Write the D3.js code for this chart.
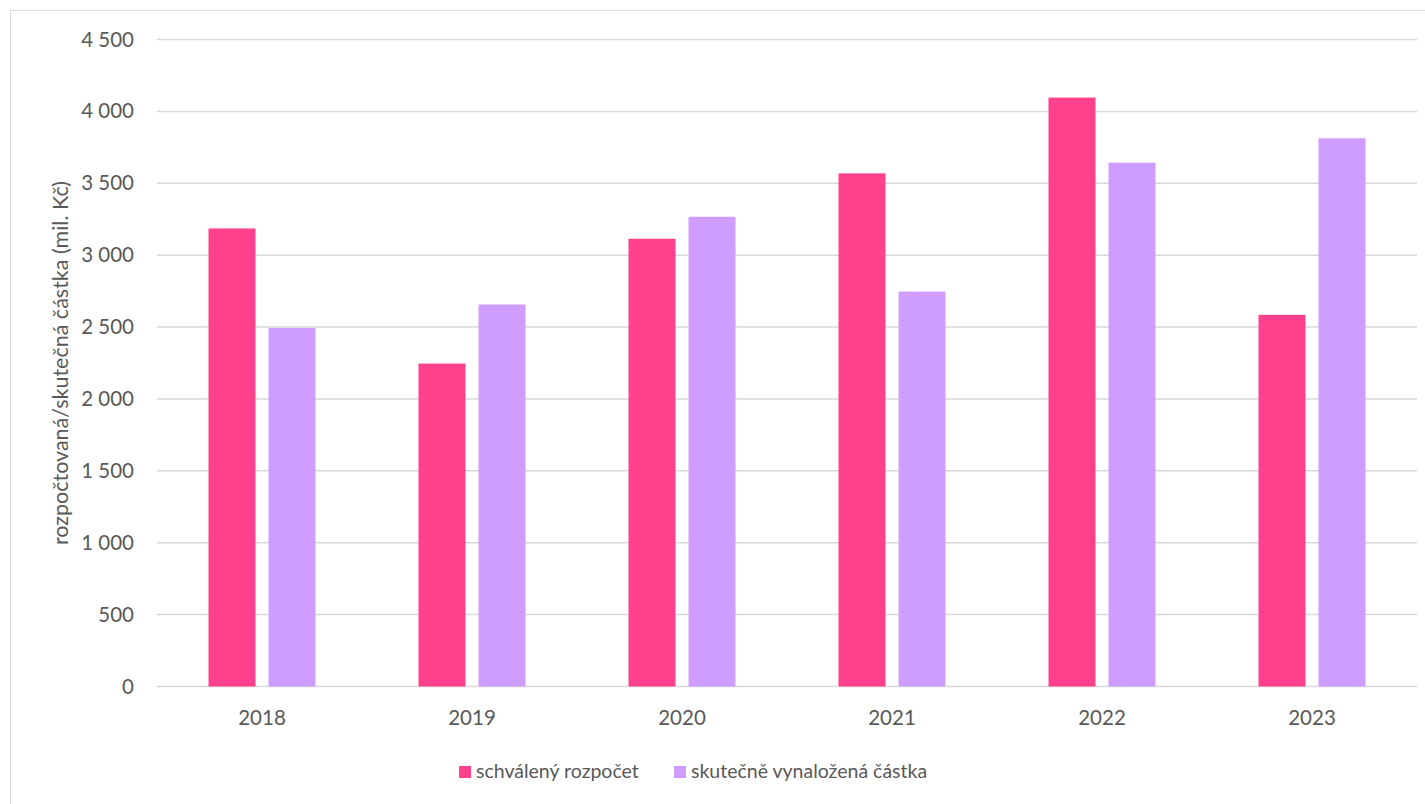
<!DOCTYPE html>
<html>
<head>
<meta charset="utf-8">
<script src="https://cdn.jsdelivr.net/npm/d3@7"></script>
<style>
  body { margin: 0; background: #fff; }
  text { font-family: Lato, "Open Sans", sans-serif; fill: #595959; }
</style>
</head>
<body>
<script>
var years = ["2018", "2019", "2020", "2021", "2022", "2023"];
var seriesNames = ["schválený rozpočet", "skutečně vynaložená částka"];
var approved = [3186, 2246, 3114, 3569, 4096, 2585];
var spent = [2494, 2657, 3267, 2747, 3643, 3813];
var yTicks = [0, 500, 1000, 1500, 2000, 2500, 3000, 3500, 4000, 4500];
var colors = ["#ff408c", "#cf9dff"];

var width = 1425, height = 804;
var plotLeft = 157, plotRight = 1417, plotTop = 39.5, plotBottom = 686.5;
var fontSize = "19.5px";

var svg = d3.select("body").append("svg")
    .attr("width", width)
    .attr("height", height);

// chart frame
svg.append("rect")
    .attr("x", 10.5).attr("y", 10.5)
    .attr("width", width).attr("height", height)
    .attr("fill", "none")
    .attr("stroke", "#d9d9d9");

var x = d3.scaleBand().domain(years).range([plotLeft, plotRight]).paddingInner(0).paddingOuter(0);
var x1 = d3.scaleBand().domain([0, 1]).range([51.5, 158.5]).paddingInner(0.217);
var y = d3.scaleLinear().domain([0, 4500]).range([plotBottom, plotTop]);

var fmt = function (d) { return d3.format(",")(d).replace(/,/g, " "); };

// grid lines
svg.append("g").selectAll("line")
    .data(yTicks)
    .join("line")
    .attr("x1", plotLeft).attr("x2", plotRight)
    .attr("y1", d => y(d)).attr("y2", d => y(d))
    .attr("stroke", "#d9d9d9")
    .attr("stroke-width", 1.5);

// y tick labels
var yAxis = svg.append("g")
    .attr("transform", "translate(" + plotLeft + ",0)")
    .call(d3.axisLeft(y).tickValues(yTicks).tickFormat(fmt).tickSize(0).tickPadding(23));
yAxis.select(".domain").remove();
yAxis.selectAll("text").style("font-size", "20.5px").attr("fill", "#595959");

// x tick labels
var xAxis = svg.append("g")
    .attr("transform", "translate(0," + plotBottom + ")")
    .call(d3.axisBottom(x).tickSize(0).tickPadding(24));
xAxis.select(".domain").remove();
xAxis.selectAll("text").style("font-size", "20.5px").attr("fill", "#595959");

// bars
var rows = years.map((yr, i) => ({ year: yr, vals: [approved[i], spent[i]] }));
var groups = svg.append("g").selectAll("g")
    .data(rows)
    .join("g")
    .attr("transform", d => "translate(" + x(d.year) + ",0)");

groups.selectAll("rect")
    .data(d => d.vals.map((v, k) => ({ k: k, v: v })))
    .join("rect")
    .attr("x", d => x1(d.k))
    .attr("width", x1.bandwidth())
    .attr("y", d => y(d.v))
    .attr("height", d => y(0) - y(d.v))
    .attr("fill", d => colors[d.k]);

// y axis title
svg.append("text")
    .attr("transform", "translate(68," + 363 + ") rotate(-90)")
    .attr("text-anchor", "middle")
    .style("font-size", "21.5px")
    .text("rozpočtovaná/skutečná částka (mil. Kč)");

// legend
var legendX = [459, 674];
var legend = svg.append("g").selectAll("g")
    .data(seriesNames)
    .join("g")
    .attr("transform", (d, i) => "translate(" + legendX[i] + ",766)");
legend.append("rect")
    .attr("width", 12).attr("height", 12)
    .attr("fill", (d, i) => colors[i]);
legend.append("text")
    .attr("x", 17).attr("y", 12)
    .style("font-size", fontSize)
    .text(d => d);
</script>
</body>
</html>
